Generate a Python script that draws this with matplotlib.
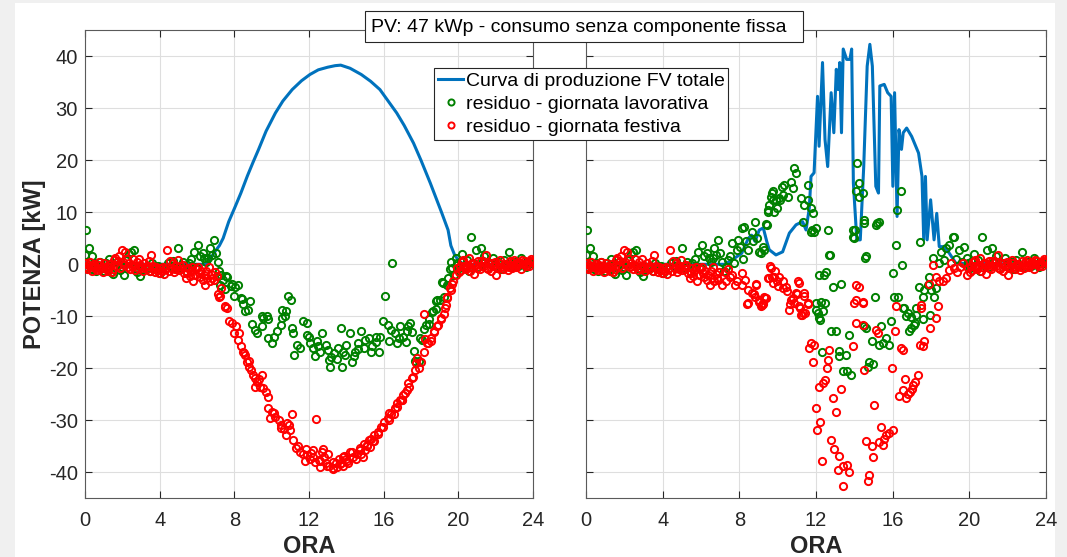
import numpy as np
import matplotlib.pyplot as plt
from matplotlib.patches import Rectangle

plt.rcParams['font.family'] = ['Liberation Sans', 'DejaVu Sans']
plt.rcParams['axes.unicode_minus'] = False

BLU = '#0072BD'
VERDE = '#008000'
ROSSO = '#FF0000'
GRIGIO = '#262626'

ore_ticks = [0, 4, 8, 12, 16, 20, 24]
kw_ticks = [-40, -30, -20, -10, 0, 10, 20, 30, 40]

titolo = 'PV: 47 kWp - consumo senza componente fissa'
etichette = ['Curva di produzione FV totale',
             'residuo - giornata lavorativa',
             'residuo - giornata festiva']

# curva FV (ora, kW) - giornata serena a sinistra, nuvolosa a destra
pv_sx = [(0, 0), (6.5, 0), (6.7, 1.0), (6.95, 2.4), (7.2, 3.6), (7.4, 5.0), (7.7, 8.2),
         (8.0, 10.7), (8.35, 13.7), (8.7, 17.0), (9.0, 19.6), (9.3, 22.1), (9.7, 25.6),
         (10.2, 29.1), (10.6, 31.4), (11.1, 33.6), (11.6, 35.3), (12.05, 36.5), (12.5, 37.4),
         (13.0, 37.9), (13.4, 38.2), (13.7, 38.3), (14.2, 37.7), (14.8, 36.5), (15.3, 35.2),
         (15.8, 33.6), (16.2, 31.6), (16.7, 29.1), (17.1, 26.7), (17.6, 23.3), (18.0, 20.0),
         (18.5, 15.6), (18.8, 12.8), (19.1, 10.0), (19.45, 6.6), (19.6, 3.6), (19.8, 1.8),
         (20.05, 0.6), (20.3, 0), (24, 0)]

pv_dx = [(0, 0), (7.25, 0.0), (7.6, 0.8), (8.12, 2.1), (8.47, 5.0), (8.64, 5.6), (8.82, 4.4),
         (9.04, 6.6), (9.25, 7.0), (9.43, 4.4), (9.56, 2.8), (9.91, 1.8), (10.26, 2.4),
         (10.61, 6.0), (10.96, 7.6), (11.3, 8.2), (11.48, 6.6), (11.65, 10.8), (11.74, 16.9),
         (11.9, 17.6), (12.08, 32.3), (12.16, 22.7), (12.34, 38.8), (12.47, 24.0), (12.61, 18.8),
         (12.79, 33.0), (12.93, 25.3), (13.06, 37.5), (13.15, 33.6), (13.24, 38.8), (13.33, 25.3),
         (13.42, 41.4), (13.6, 39.4), (13.77, 39.4), (13.86, 41.4), (13.95, 15.6), (14.13, 4.7),
         (14.31, 4.7), (14.49, 18.8), (14.67, 38.1), (14.81, 42.3), (14.94, 38.1), (15.12, 15.0),
         (15.26, 13.7), (15.33, 34.3), (15.56, 34.6), (15.74, 33.0), (15.92, 32.3), (16.01, 15.0),
         (16.1, 33.0), (16.23, 9.2), (16.33, 25.9), (16.46, 22.1), (16.55, 25.3), (16.73, 26.2),
         (16.99, 24.6), (17.35, 21.4), (17.53, 16.9), (17.62, 4.7), (17.71, 16.9), (17.8, 4.7),
         (17.98, 12.4), (18.16, 4.7), (18.3, 9.8), (18.43, 3.4), (18.69, 3.4), (18.96, 2.1),
         (19.3, 0.2), (24, 0)]

# residui notturni (uguali nei due casi, FV = 0)
notte_lav = [(0.0, 1.8), (0.05, 6.6), (0.1, -0.8), (0.2, 3.1), (0.25, -0.3), (0.35, 1.5),
             (0.4, -1.0), (0.5, 0.2), (0.6, -1.2), (0.7, -0.5), (0.8, 0.5), (0.9, -0.7),
             (1.0, -1.3), (1.1, 0.3), (1.2, -0.9), (1.3, 1.0), (1.4, -1.5), (1.5, -1.8),
             (1.6, -0.4), (1.7, 0.4), (1.8, 0.0), (1.9, -1.1), (2.0, -0.6), (2.07, -2.1),
             (2.25, 0.8), (2.35, 2.0), (2.45, 2.4), (2.6, 2.8), (2.7, -0.8), (2.8, -1.4),
             (2.95, -2.2), (3.1, -1.0), (3.2, -0.5), (3.35, -0.7), (3.5, -1.2), (3.6, 0.2),
             (3.75, -0.9), (3.9, -0.3), (4.0, -1.6), (4.15, -0.6), (4.3, -1.0), (4.45, 0.3),
             (4.6, -0.4), (4.7, 0.7), (4.85, -0.8), (5.0, 3.2), (5.1, -0.5), (5.25, 0.4),
             (5.4, -1.2), (5.55, 0.3), (5.7, 1.0), (5.85, 2.3), (5.95, -0.6), (6.05, 3.7),
             (6.15, 1.5), (6.3, 2.1), (6.4, 1.3), (6.5, 0.5), (6.6, 1.2), (6.7, 3.1),
             (6.8, 1.8), (6.9, 4.6), (7.0, 2.2),
             (19.86, 1.2), (19.95, 0.2), (20.05, -0.8), (20.15, 0.6), (20.22, 1.9), (20.35, -0.3),
             (20.45, 0.9), (20.55, -1.2), (20.67, 5.2), (20.8, 0.3), (20.94, 2.8), (21.05, -0.5),
             (21.2, 3.1), (21.3, 0.6), (21.4, 1.5), (21.55, -0.8), (21.7, 0.2), (21.85, 1.3),
             (22.0, -0.4), (22.15, 0.5), (22.3, -1.0), (22.45, 0.8), (22.6, -0.2), (22.74, 2.4),
             (22.9, -0.6), (23.05, 0.4), (23.2, -0.3), (23.35, 1.2), (23.5, 0.1), (23.65, -0.6),
             (23.8, 0.5), (23.95, 0.2)]

notte_fes = [(0.0, -0.5), (0.05, 0.3), (0.12, -1.0), (0.18, -0.2), (0.25, 0.5), (0.3, -0.3),
             (0.37, -1.3), (0.43, -0.6), (0.5, 0.0), (0.56, -0.8), (0.63, -1.1), (0.7, -0.2),
             (0.76, 0.4), (0.83, -0.9), (0.9, -0.5), (0.96, -1.4), (1.03, 0.2), (1.1, -0.7),
             (1.16, -0.3), (1.23, -1.2), (1.3, -0.6), (1.36, 0.1), (1.43, -1.5), (1.5, -0.9),
             (1.56, 0.8), (1.63, 1.3), (1.7, -0.4), (1.76, 0.6), (1.83, 1.6), (1.9, -0.8),
             (1.96, 2.7), (2.03, 0.5), (2.1, -0.2), (2.16, 2.3), (2.23, 1.0), (2.3, -0.6),
             (2.36, 0.3), (2.43, -1.0), (2.5, -0.4), (2.56, 1.0), (2.63, -0.3), (2.7, -1.1),
             (2.76, 0.4), (2.83, -0.7), (2.9, 1.0), (2.96, -0.2), (3.03, -0.8), (3.1, -1.3),
             (3.16, 0.2), (3.23, -0.6), (3.3, -1.0), (3.36, -0.4), (3.43, 0.6), (3.5, -1.2),
             (3.56, 1.7), (3.63, -0.3), (3.7, -0.9), (3.76, -1.4), (3.83, -0.6), (3.9, -1.1),
             (3.96, -1.6), (4.03, -0.8), (4.1, -1.2), (4.16, -0.5), (4.23, -1.9), (4.3, -1.0),
             (4.4, 2.7), (4.5, -1.3), (4.56, 0.6), (4.63, -0.7), (4.7, 0.2), (4.76, -1.5),
             (4.83, -0.9), (4.9, -0.4), (4.96, 0.8), (5.03, -1.1), (5.1, -0.4), (5.16, -1.0),
             (5.23, -0.2), (5.3, -1.7), (5.4, -2.7), (5.46, -1.6), (5.53, -0.8), (5.6, -2.2),
             (5.66, -1.3), (5.73, -0.5), (5.8, -3.3), (5.9, -2.0), (5.96, -1.0), (6.03, -0.6),
             (6.1, -1.7), (6.16, -2.5), (6.23, -1.2), (6.3, -3.0), (6.36, -2.0), (6.45, -4.0),
             (6.5, -1.2), (6.56, -2.7), (6.63, -0.5), (6.7, -3.3), (6.76, -1.8), (6.83, -2.6),
             (6.9, -3.0), (6.96, -1.5),
             (19.86, -2.1), (19.95, -0.8), (20.05, -1.5), (20.1, -0.3), (20.13, -1.1), (20.2, 0.5),
             (20.27, 0.9), (20.3, -0.4), (20.4, -1.0), (20.45, -0.5), (20.49, -0.1), (20.58, 1.2),
             (20.62, -1.3), (20.65, -0.6), (20.75, 0.3), (20.8, 0.1), (20.85, -1.8), (20.95, -0.2),
             (21.0, -0.8), (21.05, 0.6), (21.15, -0.9), (21.2, 0.7), (21.25, -0.3), (21.35, 0.4),
             (21.4, -0.4), (21.48, 1.8), (21.55, -0.7), (21.6, -1.0), (21.65, 0.2), (21.75, -1.2),
             (21.8, 0.3), (21.85, -0.4), (21.95, 0.5), (22.02, -2.1), (22.05, -0.7), (22.1, -0.6),
             (22.2, 0.3), (22.25, 0.8), (22.29, -0.5), (22.4, -1.0), (22.45, -0.2), (22.5, 0.1),
             (22.6, -0.3), (22.65, -1.1), (22.7, -0.6), (22.75, 0.6), (22.85, -0.8), (22.9, 0.4),
             (22.95, -0.2), (23.0, 0.8), (23.1, -0.5), (23.15, -0.1), (23.2, 0.3), (23.27, 0.5),
             (23.35, -0.9), (23.4, 0.9), (23.45, 0.0), (23.55, 0.6), (23.6, 0.1), (23.65, -0.4),
             (23.75, 0.2), (23.8, -0.3), (23.85, 0.7), (23.9, 1.0), (23.95, 0.4), (24.0, 0.6)]

# residui diurni, pannello sinistro
sx_lav = [(7.1, 0.4), (7.2, -1.2), (7.24, -3.9), (7.3, -2.0), (7.4, -3.0), (7.52, -4.8),
          (7.55, -2.3), (7.61, -2.5), (7.8, -4.2), (7.85, -3.7), (7.98, -6.1), (8.05, -4.3),
          (8.17, -3.9), (8.35, -6.5), (8.4, -6.7), (8.44, -7.7), (8.57, -9.0), (8.72, -8.7),
          (8.85, -7.1), (8.94, -11.5), (9.09, -12.6), (9.19, -13.2), (9.46, -11.9), (9.5, -10.0),
          (9.56, -10.3), (9.74, -10.0), (9.8, -14.2), (9.83, -10.6), (10.02, -15.2), (10.11, -13.9),
          (10.3, -12.9), (10.48, -11.6), (10.55, -8.7), (10.57, -10.3), (10.7, -10.0), (10.76, -9.0),
          (10.9, -6.1), (11.04, -6.8), (11.09, -12.3), (11.13, -13.2), (11.22, -17.4), (11.35, -15.5),
          (11.5, -16.1), (11.69, -11.0), (11.87, -11.3), (11.9, -13.5), (12.0, -14.0), (12.06, -15.2),
          (12.24, -16.1), (12.3, -17.6), (12.43, -14.8), (12.5, -15.8), (12.61, -16.8), (12.7, -13.2),
          (12.89, -15.5), (13.0, -16.5), (13.07, -18.4), (13.13, -19.7), (13.2, -17.8), (13.35, -17.1),
          (13.5, -18.2), (13.54, -16.1), (13.72, -12.3), (13.75, -19.7), (13.8, -16.9), (13.91, -17.4),
          (14.0, -15.5), (14.19, -13.2), (14.28, -18.7), (14.4, -17.6), (14.46, -16.8), (14.6, -16.2),
          (14.65, -15.2), (14.8, -12.9), (14.93, -16.1), (15.0, -14.5), (15.2, -14.2), (15.3, -16.9),
          (15.39, -15.8), (15.57, -13.9), (15.6, -15.0), (15.76, -16.8), (15.8, -14.0), (15.94, -11.0),
          (16.09, -6.1), (16.22, -11.6), (16.31, -14.8), (16.4, -12.6), (16.44, 0.2), (16.59, -13.2),
          (16.69, -15.2), (16.8, -14.2), (16.87, -11.9), (17.06, -13.9), (17.2, -15.0), (17.24, -12.9),
          (17.3, -11.8), (17.43, -11.2), (17.5, -13.0), (17.61, -16.7), (17.7, -18.6), (17.88, -18.6),
          (17.97, -14.1), (18.07, -14.5), (18.15, -12.5), (18.26, -11.6), (18.42, -11.5), (18.44, -10.6),
          (18.6, -9.2), (18.63, -9.0), (18.78, -8.6), (18.81, -7.1), (18.87, -6.9), (19.0, -6.8),
          (19.14, -3.4), (19.19, -3.6), (19.23, -6.3), (19.4, -4.0), (19.46, -2.6), (19.55, -1.0),
          (19.6, 0.5), (19.68, -0.8), (19.77, -2.1)]

sx_fes = [(7.06, -2.3), (7.15, -5.8), (7.2, -6.3), (7.24, -6.1), (7.3, -4.5), (7.5, -8.3),
          (7.52, -8.1), (7.61, -8.4), (7.7, -11.0), (7.89, -11.3), (7.98, -13.2), (8.07, -11.9),
          (8.2, -14.5), (8.26, -13.2), (8.35, -15.8), (8.44, -16.8), (8.5, -17.0), (8.57, -17.4),
          (8.69, -18.7), (8.76, -19.7), (8.8, -18.5), (8.87, -20.3), (9.0, -21.3), (9.09, -21.9),
          (9.1, -23.5), (9.24, -22.6), (9.3, -22.0), (9.37, -23.5), (9.46, -21.3), (9.56, -23.8),
          (9.69, -24.5), (9.8, -25.5), (9.83, -27.7), (9.9, -29.5), (10.02, -28.4), (10.1, -28.5),
          (10.2, -29.3), (10.39, -30.0), (10.48, -30.9), (10.5, -31.5), (10.67, -31.6), (10.76, -32.9),
          (10.8, -30.5), (10.94, -30.9), (11.0, -31.8), (11.09, -28.7), (11.13, -33.8), (11.31, -35.4),
          (11.4, -35.0), (11.5, -36.1), (11.69, -36.4), (11.8, -37.8), (11.86, -35.5), (11.87, -36.7),
          (12.06, -37.4), (12.1, -36.3), (12.22, -37.1), (12.24, -35.8), (12.3, -38.0), (12.39, -29.7),
          (12.52, -37.7), (12.58, -37.8), (12.6, -38.9), (12.7, -36.1), (12.76, -35.5), (12.8, -37.0),
          (12.89, -38.3), (12.94, -38.8), (13.0, -36.5), (13.07, -38.7), (13.26, -39.3), (13.29, -39.1),
          (13.3, -38.0), (13.44, -38.3), (13.5, -39.0), (13.63, -37.4), (13.65, -38.4), (13.7, -38.2),
          (13.81, -38.7), (13.83, -37.1), (13.9, -36.8), (14.0, -37.4), (14.01, -37.8), (14.1, -38.3),
          (14.19, -36.1), (14.3, -36.0), (14.37, -37.0), (14.5, -37.5), (14.56, -36.4), (14.73, -35.8),
          (14.74, -35.4), (14.8, -36.5), (14.91, -37.1), (14.93, -34.5), (15.0, -35.8), (15.09, -34.9),
          (15.11, -34.8), (15.2, -33.8), (15.27, -35.2), (15.3, -33.5), (15.45, -33.9), (15.48, -32.9),
          (15.5, -34.0), (15.67, -32.2), (15.72, -32.6), (15.85, -31.2), (15.99, -31.3), (16.04, -30.3),
          (16.22, -29.6), (16.26, -30.0), (16.3, -28.5), (16.41, -28.7), (16.53, -28.7), (16.59, -27.7),
          (16.69, -26.7), (16.71, -27.4), (16.87, -26.1), (16.98, -26.1), (17.0, -26.0), (17.06, -25.1),
          (17.16, -24.8), (17.24, -24.2), (17.33, -22.9), (17.34, -23.5), (17.52, -21.9), (17.55, -21.6),
          (17.7, -20.3), (17.72, -19.0), (17.79, -18.0), (17.89, -20.0), (17.98, -18.7), (18.15, -9.5),
          (18.17, -16.8), (18.24, -14.4), (18.33, -15.1), (18.35, -15.2), (18.51, -14.7), (18.54, -14.2),
          (18.69, -13.1), (18.72, -12.9), (18.87, -11.8), (18.91, -11.6), (19.05, -10.5), (19.09, -10.3),
          (19.23, -9.5), (19.28, -8.4), (19.32, -7.9), (19.37, -6.5), (19.41, -6.3), (19.56, -4.5),
          (19.59, -5.0), (19.68, -3.7), (19.74, -3.2)]

# residui diurni, pannello destro
dx_lav = [(7.1, 0.4), (7.2, -1.2), (7.3, -0.5), (7.43, 0.8), (7.5, 1.5), (7.6, 4.0), (7.7, 0.3),
          (7.86, 2.8), (7.95, 4.7), (8.03, 3.4), (8.12, 6.9), (8.2, 1.0), (8.26, 7.2), (8.35, 4.5),
          (8.47, 2.8), (8.64, 6.3), (8.7, 4.4), (8.82, 8.2), (8.9, 5.0), (9.0, 2.4), (9.13, 2.1),
          (9.22, 3.4), (9.3, 2.8), (9.39, 7.8), (9.43, 7.6), (9.48, 10.4), (9.51, 10.1), (9.57, 11.4),
          (9.65, 13.0), (9.69, 13.7), (9.74, 14.0), (9.77, 12.4), (9.83, 10.1), (9.91, 12.4),
          (9.95, 10.8), (10.09, 12.7), (10.12, 12.4), (10.21, 14.9), (10.26, 13.3), (10.35, 15.3),
          (10.52, 13.0), (10.7, 15.9), (10.78, 14.6), (10.87, 18.5), (10.96, 17.5), (11.22, 12.7),
          (11.3, 8.2), (11.39, 11.4), (11.57, 12.4), (11.6, 15.3), (11.74, 10.8), (11.76, 6.3),
          (11.8, 6.6), (11.83, 9.8), (11.91, 6.3), (12.0, 6.9), (12.0, -7.4), (12.02, -8.8),
          (12.09, -9.4), (12.17, -2.1), (12.17, -10.4), (12.21, -10.8), (12.26, -7.2), (12.31, -16.8),
          (12.35, -9.0), (12.43, -2.1), (12.45, -7.5), (12.52, -1.4), (12.65, 6.6), (12.7, 1.8),
          (12.74, 1.8), (12.78, -12.8), (12.9, -4.3), (13.04, -12.8), (13.18, -16.6), (13.22, -17.7),
          (13.3, -3.7), (13.39, -20.5), (13.57, -17.5), (13.6, -20.6), (13.74, -13.5), (13.83, -21.3),
          (13.91, 6.6), (13.95, 5.3), (14.0, 5.0), (14.04, 6.6), (14.09, 14.0), (14.12, 19.4),
          (14.23, 13.0), (14.26, 15.6), (14.43, 13.7), (14.49, 7.9), (14.52, 8.5), (14.52, -11.9),
          (14.58, 1.3), (14.6, -12.3), (14.61, 1.5), (14.7, -19.7), (14.78, -18.7), (14.9, -14.8),
          (14.96, -19.2), (15.1, -6.2), (15.13, 7.6), (15.2, 7.9), (15.27, 8.2), (15.3, -15.5),
          (15.39, -11.9), (15.48, -15.2), (15.65, -14.2), (15.79, -15.5), (15.91, -11.0), (16.0, -1.6),
          (16.09, -6.2), (16.17, 3.7), (16.21, 10.4), (16.26, -6.2), (16.43, 14.0), (16.5, -0.1),
          (16.52, -8.4), (16.61, -8.5), (16.7, -10.0), (16.78, -9.4), (16.87, -12.9), (16.96, -12.3),
          (16.98, -10.1), (17.13, -11.6), (17.15, -11.3), (17.22, -8.4), (17.24, -9.7), (17.39, -4.3),
          (17.44, 4.2), (17.57, -6.2), (17.59, -10.6), (17.65, -4.9), (17.83, -4.0), (17.91, -2.4),
          (17.95, -9.7), (18.0, -4.9), (18.09, 1.2), (18.17, -6.2), (18.26, -4.6), (18.43, 0.2),
          (18.52, 2.4), (18.7, 0.8), (18.78, 3.1), (18.96, 3.7), (19.13, 5.3), (19.18, 5.2),
          (19.3, 1.0), (19.48, 2.8), (19.6, 0.5), (19.74, 3.4)]

dx_fes = [(7.07, -3.9), (7.25, -1.4), (7.33, -3.2), (7.4, -0.9), (7.5, -2.5), (7.6, -2.1),
          (7.78, -3.9), (7.86, -3.3), (8.12, -1.7), (8.14, -3.9), (8.3, -3.0), (8.41, -7.7),
          (8.43, -7.5), (8.47, -4.9), (8.64, -5.6), (8.77, -5.8), (8.82, -6.2), (8.85, -3.7),
          (8.86, -4.0), (9.0, -7.2), (9.03, -6.8), (9.13, -8.1), (9.2, -7.8), (9.21, -7.7),
          (9.25, -7.5), (9.3, -6.2), (9.34, -6.5), (9.39, -6.5), (9.48, -2.7), (9.57, -2.6),
          (9.6, -0.4), (9.65, -0.8), (9.69, -2.4), (9.75, -3.6), (9.83, -2.4), (9.84, -1.3),
          (9.95, -3.3), (10.02, -4.2), (10.09, -2.4), (10.26, -3.3), (10.29, -4.5), (10.43, -4.3),
          (10.47, -5.2), (10.6, -8.7), (10.64, -7.7), (10.7, -6.9), (10.82, -6.5), (10.87, -7.5),
          (10.96, -5.6), (11.0, -5.8), (11.04, -3.3), (11.09, -3.6), (11.13, -8.1), (11.18, -8.4),
          (11.2, -9.7), (11.27, -9.7), (11.3, -9.4), (11.36, -6.1), (11.39, -5.6), (11.45, -9.4),
          (11.56, -7.7), (11.57, -7.5), (11.62, -16.1), (11.74, -15.2), (11.83, -18.7), (11.91, -15.5),
          (12.0, -27.7), (12.03, -31.8), (12.14, -23.5), (12.21, -30.3), (12.31, -37.9), (12.35, -22.9),
          (12.49, -22.3), (12.56, -19.9), (12.6, -18.4), (12.7, -16.5), (12.78, -33.7), (12.87, -25.8),
          (12.96, -35.5), (13.04, -28.4), (13.13, -39.5), (13.22, -36.9), (13.3, -23.9), (13.39, -42.6),
          (13.43, -38.7), (13.6, -38.6), (13.74, -40.0), (13.91, -15.8), (14.0, -7.4), (14.09, -4.0),
          (14.1, -6.9), (14.09, -11.3), (14.26, -4.3), (14.43, -7.2), (14.45, -7.4), (14.43, -11.6),
          (14.52, -20.3), (14.6, -33.9), (14.7, -41.7), (14.78, -40.6), (14.92, -35.0), (14.96, -37.1),
          (15.04, -27.1), (15.13, -12.6), (15.22, -13.2), (15.3, -34.2), (15.39, -31.3), (15.48, -34.8),
          (15.57, -33.5), (15.65, -32.9), (15.83, -32.4), (15.97, -19.9), (16.03, -31.9), (16.14, -12.8),
          (16.17, -8.1), (16.31, -25.4), (16.43, -16.1), (16.52, -16.5), (16.53, -24.2), (16.66, -22.1),
          (16.7, -25.8), (16.78, -25.0), (16.9, -24.5), (17.0, -23.9), (17.08, -23.2), (17.18, -22.6),
          (17.3, -21.3), (17.4, -15.5), (17.48, -7.8), (17.5, -8.4), (17.57, -15.8), (17.65, -14.8),
          (17.91, -3.7), (17.95, -12.3), (18.09, -0.1), (18.26, -10.3), (18.27, -2.4), (18.35, -8.1),
          (18.43, -3.3), (18.61, -3.3), (18.78, -2.7), (18.96, -1.1), (19.04, 0.2), (19.2, -0.8),
          (19.35, -1.5), (19.5, -0.5), (19.65, 0.3)]


def pannello(ax, pv, lav, fes):
    h, kw = np.array(pv).T
    ax.plot(h, kw, color=BLU, lw=2.2, label=etichette[0], zorder=2)
    lav = np.array(notte_lav + lav)
    fes = np.array(notte_fes + fes)
    ax.plot(lav[:, 0], lav[:, 1], 'o', mfc='none', mec=VERDE, ms=5.2, mew=1.4,
            label=etichette[1], zorder=3)
    ax.plot(fes[:, 0], fes[:, 1], 'o', mfc='none', mec=ROSSO, ms=5.2, mew=1.4,
            label=etichette[2], zorder=4)
    ax.set_xlim(0, 24)
    ax.set_ylim(-45, 45)
    ax.set_xticks(ore_ticks)
    ax.set_yticks(kw_ticks)
    ax.grid(True, color='#dedede', lw=0.8)
    ax.set_axisbelow(True)
    ax.tick_params(direction='in', top=True, right=True, length=5, width=0.8,
                   color=GRIGIO, labelcolor=GRIGIO, labelsize=14.5)
    ax.tick_params(axis='x', pad=9)
    ax.tick_params(axis='y', pad=5)
    for s in ax.spines.values():
        s.set_color('#5a5a5a')
        s.set_linewidth(0.8)
    ax.set_xlabel('ORA', fontsize=17, fontweight='bold', color=GRIGIO)
    ax.xaxis.set_label_coords(0.5, -0.078)


W, H = 1067, 557
fig = plt.figure(figsize=(W / 100, H / 100), dpi=100, facecolor='#f0f0f0')
fig.add_artist(Rectangle((15 / W, 0), 1040 / W, 554 / H, transform=fig.transFigure,
                         facecolor='white', edgecolor='none', zorder=-10))

ax1 = fig.add_axes([85 / W, 58.7 / H, 448 / W, 468 / H])
ax2 = fig.add_axes([586 / W, 58.7 / H, 460 / W, 468 / H])

pannello(ax1, pv_sx, sx_lav, sx_fes)
pannello(ax2, pv_dx, dx_lav, dx_fes)
ax2.tick_params(labelleft=False)

ax1.set_ylabel('POTENZA [kW]', fontsize=17, fontweight='bold', color=GRIGIO)
ax1.yaxis.set_label_coords(-0.086, 0.5)

# riquadro del titolo
fig.add_artist(Rectangle((365 / W, 1 - 41.7 / H), 438 / W, 30.7 / H, transform=fig.transFigure,
                         facecolor='white', edgecolor=GRIGIO, lw=0.8, zorder=6))
fig.text(371 / W, 1 - 32 / H, titolo, ha='left', va='baseline', fontsize=14,
         color='black', zorder=7)

handles, labels = ax1.get_legend_handles_labels()
leg = fig.legend(handles, labels, loc='upper left',
                 bbox_to_anchor=(434 / W, 1 - 68 / H), bbox_transform=fig.transFigure,
                 fontsize=14, frameon=True, fancybox=False, edgecolor=GRIGIO,
                 framealpha=1, borderpad=0.2, labelspacing=0.28, handlelength=1.3,
                 handletextpad=0.12, borderaxespad=0, markerscale=0.85)
leg.get_frame().set_linewidth(0.8)

fig.savefig('out.png', dpi=100, facecolor=fig.get_facecolor())
